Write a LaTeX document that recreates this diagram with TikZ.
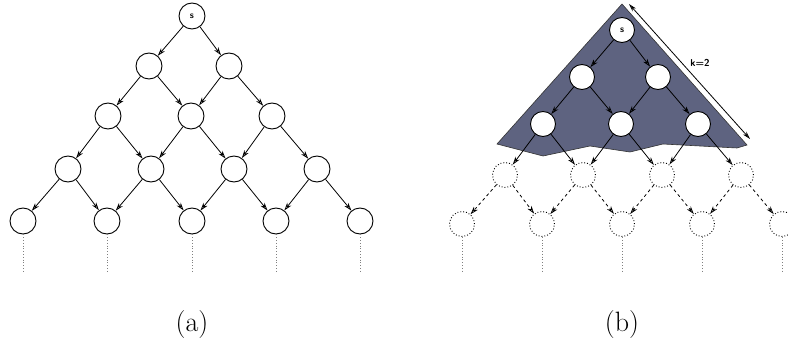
\documentclass[tikz,border=0pt]{standalone}
\usetikzlibrary{arrows.meta}
\definecolor{shade}{RGB}{94,99,128}
\begin{document}
\begin{tikzpicture}[x=1pt,y=-1pt,
  vert/.style={circle,draw,line width=0.9pt,minimum size=26pt,inner sep=0pt,fill=white,
    font=\sffamily\bfseries\fontsize{9.5}{10}\selectfont},
  smallvert/.style={vert,minimum size=25pt},
  ghost/.style={smallvert,dotted},
  edge/.style={line width=0.8pt,-{Stealth[length=8pt,width=5pt,inset=2.5pt,open]}},
  ghostedge/.style={edge,dashed},
  tail/.style={gray,dotted,line width=0.8pt},
  caption/.style={font=\fontsize{28}{32}\selectfont}]
\useasboundingbox (0,0) rectangle (788,345);

% ---------- (a): full DAG ----------
\node[vert] (a-0-1) at (192,16) {s};
\foreach \x [count=\i] in {149,229} {\node[vert] (a-1-\i) at (\x,66) {};}
\foreach \x [count=\i] in {108,191,272} {\node[vert] (a-2-\i) at (\x,116) {};}
\foreach \x [count=\i] in {68,151,234,317} {\node[vert] (a-3-\i) at (\x,169) {};}
\foreach \x [count=\i] in {23,107,192,276,360} {\node[vert] (a-4-\i) at (\x,221) {};}
\foreach \l [evaluate=\l as \m using int(\l+1)] in {0,...,3} {
  \foreach \i [evaluate=\i as \j using int(\i+1)] in {1,...,\m} {
    \draw[edge] (a-\l-\i) -- (a-\m-\i);
    \draw[edge] (a-\l-\i) -- (a-\m-\j);
  }
}
\foreach \i in {1,...,5} {
  \path (a-4-\i) ++(0,51) coordinate (a-end-\i);
  \draw[tail] (a-4-\i.south) -- (a-end-\i);
}
\node[caption] (capa) at (192,325) {(a)};

% ---------- (b): explored part of depth k ----------
\filldraw[fill=shade,draw=black!80,line width=0.6pt]
  (622,4) -- (747,145) -- (737,148) -- (663,144) -- (630,152) -- (590,146)
  -- (543,156) -- (497,144) -- cycle;
\coordinate (ktop) at (629,4);
\coordinate (kbot) at (750,139);
\draw[white,line width=2.8pt] (ktop) -- (kbot);
\draw[line width=0.8pt,{Stealth[length=8pt,width=4.5pt,inset=2.5pt,open]}-{Stealth[length=8pt,width=4.5pt,inset=2.5pt,open]}] (ktop) -- (kbot);
\node[font=\sffamily\bfseries\fontsize{10}{11}\selectfont] (klabel) at (700,63) {k=2};

\node[smallvert] (b-0-1) at (622,30) {s};
\foreach \x [count=\i] in {582,658} {\node[smallvert] (b-1-\i) at (\x,77) {};}
\foreach \x [count=\i] in {543,621,698} {\node[smallvert] (b-2-\i) at (\x,124) {};}
\foreach \x [count=\i] in {505,583,662,741} {\node[ghost] (b-3-\i) at (\x,175) {};}
\foreach \x [count=\i] in {462,542,622,702,782} {\node[ghost] (b-4-\i) at (\x,224) {};}
\foreach \l [evaluate=\l as \m using int(\l+1)] in {0,...,2} {
  \foreach \i [evaluate=\i as \j using int(\i+1)] in {1,...,\m} {
    \draw[edge] (b-\l-\i) -- (b-\m-\i);
    \draw[edge] (b-\l-\i) -- (b-\m-\j);
  }
}
\foreach \i [evaluate=\i as \j using int(\i+1)] in {1,...,4} {
  \draw[ghostedge] (b-3-\i) -- (b-4-\i);
  \draw[ghostedge] (b-3-\i) -- (b-4-\j);
}
\foreach \i in {1,...,5} {
  \path (b-4-\i) ++(0,48) coordinate (b-end-\i);
  \draw[tail] (b-4-\i.south) -- (b-end-\i);
}
\node[caption] (capb) at (622,325) {(b)};
\end{tikzpicture}
\end{document}
